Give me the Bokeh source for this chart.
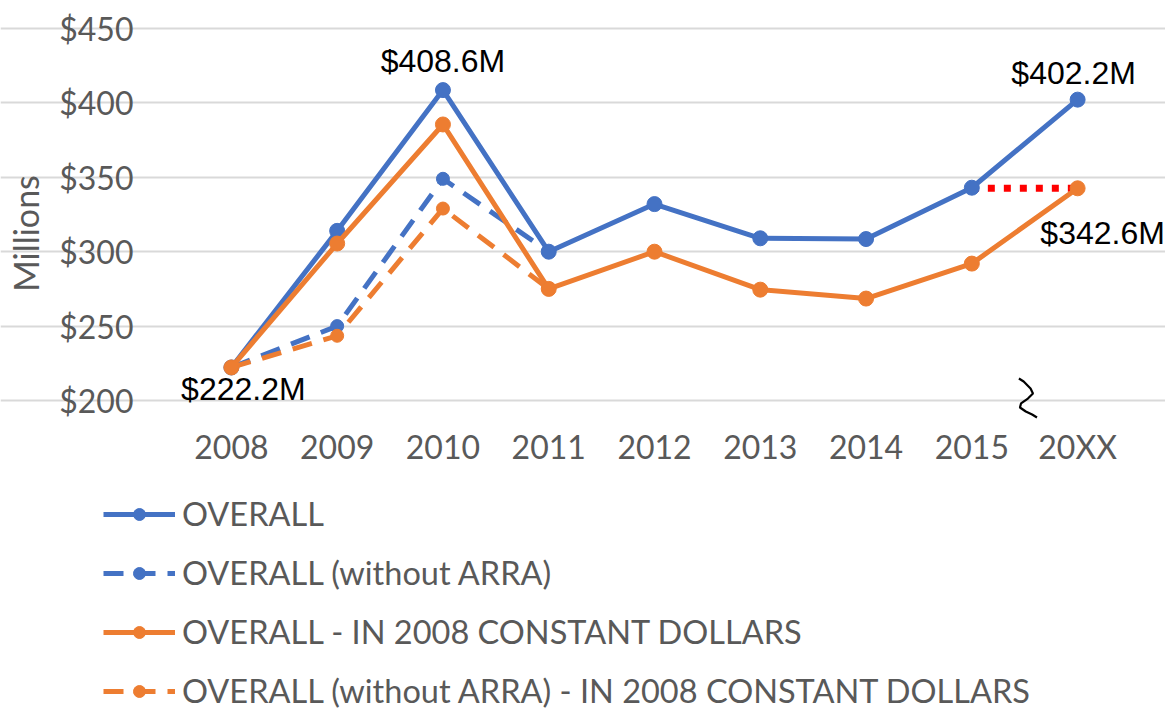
import math
from bokeh.plotting import figure
from bokeh.models import (ColumnDataSource, FixedTicker, Legend, LegendItem,
                          LabelSet, Label, Range1d, PolyAnnotation)
from bokeh.embed import file_html
from bokeh.resources import INLINE
from bokeh.core.properties import value

# ---------------- data ----------------
years = ["2008", "2009", "2010", "2011", "2012", "2013", "2014", "2015", "20XX"]
overall = [222.2, 314.0, 408.6, 300.0, 332.0, 309.0, 308.5, 343.0, 402.2]
overall_no_arra = [222.2, 250.0, 349.0, 300.0]
constant = [222.2, 305.5, 385.5, 275.0, 300.0, 274.5, 268.5, 292.0, 342.6]
constant_no_arra = [222.2, 243.5, 329.0, 275.0]
y_ticks = [200, 250, 300, 350, 400, 450]
y_tick_labels = ["$200", "$250", "$300", "$350", "$400", "$450"]
series_names = ["OVERALL", "OVERALL (without ARRA)",
                "OVERALL - IN 2008 CONSTANT DOLLARS",
                "OVERALL (without ARRA) - IN 2008 CONSTANT DOLLARS"]
label_idx = [2, 8, 0, 8]
label_vals = [408.6, 402.2, 222.2, 342.6]
label_texts = ["$408.6M", "$402.2M", "$222.2M", "$342.6M"]

BLUE = "#4472C4"
ORANGE = "#ED7D31"
GRAY = "#595959"
TICK_FONT = "Lato"
FS = "32px"

W, H = 1165, 709
# plot-area placement (pixels) of the category / value extents
PL, PR, PT, PB = 178, 1130, 28, 400

xs = list(range(len(years)))
x0, x1 = -0.5, len(years) - 0.5
y0, y1 = y_ticks[0], y_ticks[-1]
ppx = (PR - PL) / (x1 - x0)
ppy = (PB - PT) / (y1 - y0)

p = figure(width=W, height=H, output_backend="svg", toolbar_location=None,
           x_range=Range1d(x0 - PL / ppx, x0 + (W - PL) / ppx),
           y_range=Range1d(y0 - (H - PB) / ppy, y0 + PB / ppy),
           min_border=0)
p.outline_line_color = None
p.background_fill_color = "white"

# axes pinned at the plot-area edges
p.xaxis.fixed_location = y0
p.yaxis.fixed_location = x0
p.xaxis.ticker = FixedTicker(ticks=xs)
p.xaxis.major_label_overrides = {i: y for i, y in enumerate(years)}
p.yaxis.ticker = FixedTicker(ticks=y_ticks)
p.yaxis.major_label_overrides = {t: l for t, l in zip(y_ticks, y_tick_labels)}
for ax in (p.xaxis[0], p.yaxis[0]):
    ax.axis_line_color = None
    ax.major_tick_line_color = None
    ax.minor_tick_line_color = None
    ax.major_tick_out = 0
    ax.major_tick_in = 0
    ax.major_label_text_font = TICK_FONT
    ax.major_label_text_font_size = FS
    ax.major_label_text_color = GRAY
p.yaxis.major_label_standoff = 45
p.xaxis.major_label_standoff = 26

p.xgrid.grid_line_color = None
p.ygrid.ticker = FixedTicker(ticks=y_ticks)
p.ygrid.bounds = (x0, x1)
p.ygrid.grid_line_color = "#D9D9D9"
p.ygrid.grid_line_width = 2

# comparison dotted line
p.line([xs[7], xs[8]], [constant[8], constant[8]], line_color="red",
       line_width=7, line_dash="7 9")

# series
r_o_l = p.line(xs, overall, line_color=BLUE, line_width=5)
r_o_s = p.scatter(xs, overall, size=15, color=BLUE)
n1 = len(overall_no_arra)
r_on_l = p.line(xs[:n1], overall_no_arra, line_color=BLUE, line_width=5, line_dash="20 12")
r_on_s = p.scatter(xs[:n1], overall_no_arra, size=13, color=BLUE)
r_c_l = p.line(xs, constant, line_color=ORANGE, line_width=5)
r_c_s = p.scatter(xs, constant, size=15, color=ORANGE)
n2 = len(constant_no_arra)
r_cn_l = p.line(xs[:n2], constant_no_arra, line_color=ORANGE, line_width=5, line_dash="20 12")
r_cn_s = p.scatter(xs[:n2], constant_no_arra, size=13, color=ORANGE)

# data labels
lsrc = ColumnDataSource(dict(
    x=[xs[i] for i in label_idx], y=label_vals, t=label_texts,
    xo=[0, -4, 12, 25], yo=[18, 16, -33, -56]))
p.add_layout(LabelSet(x="x", y="y", text="t", source=lsrc, x_offset="xo", y_offset="yo",
                      text_align="center", text_baseline="alphabetic",
                      text_font=value("Liberation Sans"), text_font_size=FS,
                      text_color="black"))

# hand-drawn break mark near the last category
bx = [7.445, 7.49, 7.555, 7.578, 7.53, 7.465, 7.455, 7.51, 7.57, 7.616]
by = [214.8, 212.8, 208.1, 204.7, 201.3, 198.0, 195.3, 192.6, 190.6, 188.6]
p.add_layout(PolyAnnotation(xs=bx + bx[::-1], ys=by + by[::-1], fill_alpha=0,
                            line_color="black", line_alpha=1.0, line_width=2.2))

# axis title
p.add_layout(Label(x=x0 - (PL - 25) / ppx, y=y0 + (PB - 233) / ppy, text="Millions",
                   angle=math.pi / 2, text_align="center", text_baseline="middle",
                   text_font=TICK_FONT, text_font_size="34px", text_color=GRAY))

legend = Legend(items=[
    LegendItem(label=series_names[0], renderers=[r_o_l, r_o_s]),
    LegendItem(label=series_names[1], renderers=[r_on_l, r_on_s]),
    LegendItem(label=series_names[2], renderers=[r_c_l, r_c_s]),
    LegendItem(label=series_names[3], renderers=[r_cn_l, r_cn_s]),
], location=(103, -1), orientation="vertical")
legend.glyph_width = 72
legend.glyph_height = 30
legend.label_height = 20
legend.spacing = 20
legend.padding = 0
legend.margin = 0
legend.label_standoff = 7
legend.border_line_color = None
legend.background_fill_alpha = 0
legend.label_text_font = TICK_FONT
legend.label_text_font_size = "32.5px"
legend.label_text_color = GRAY
p.add_layout(legend, "center")

open("out.html", "w").write(file_html(p, INLINE))
